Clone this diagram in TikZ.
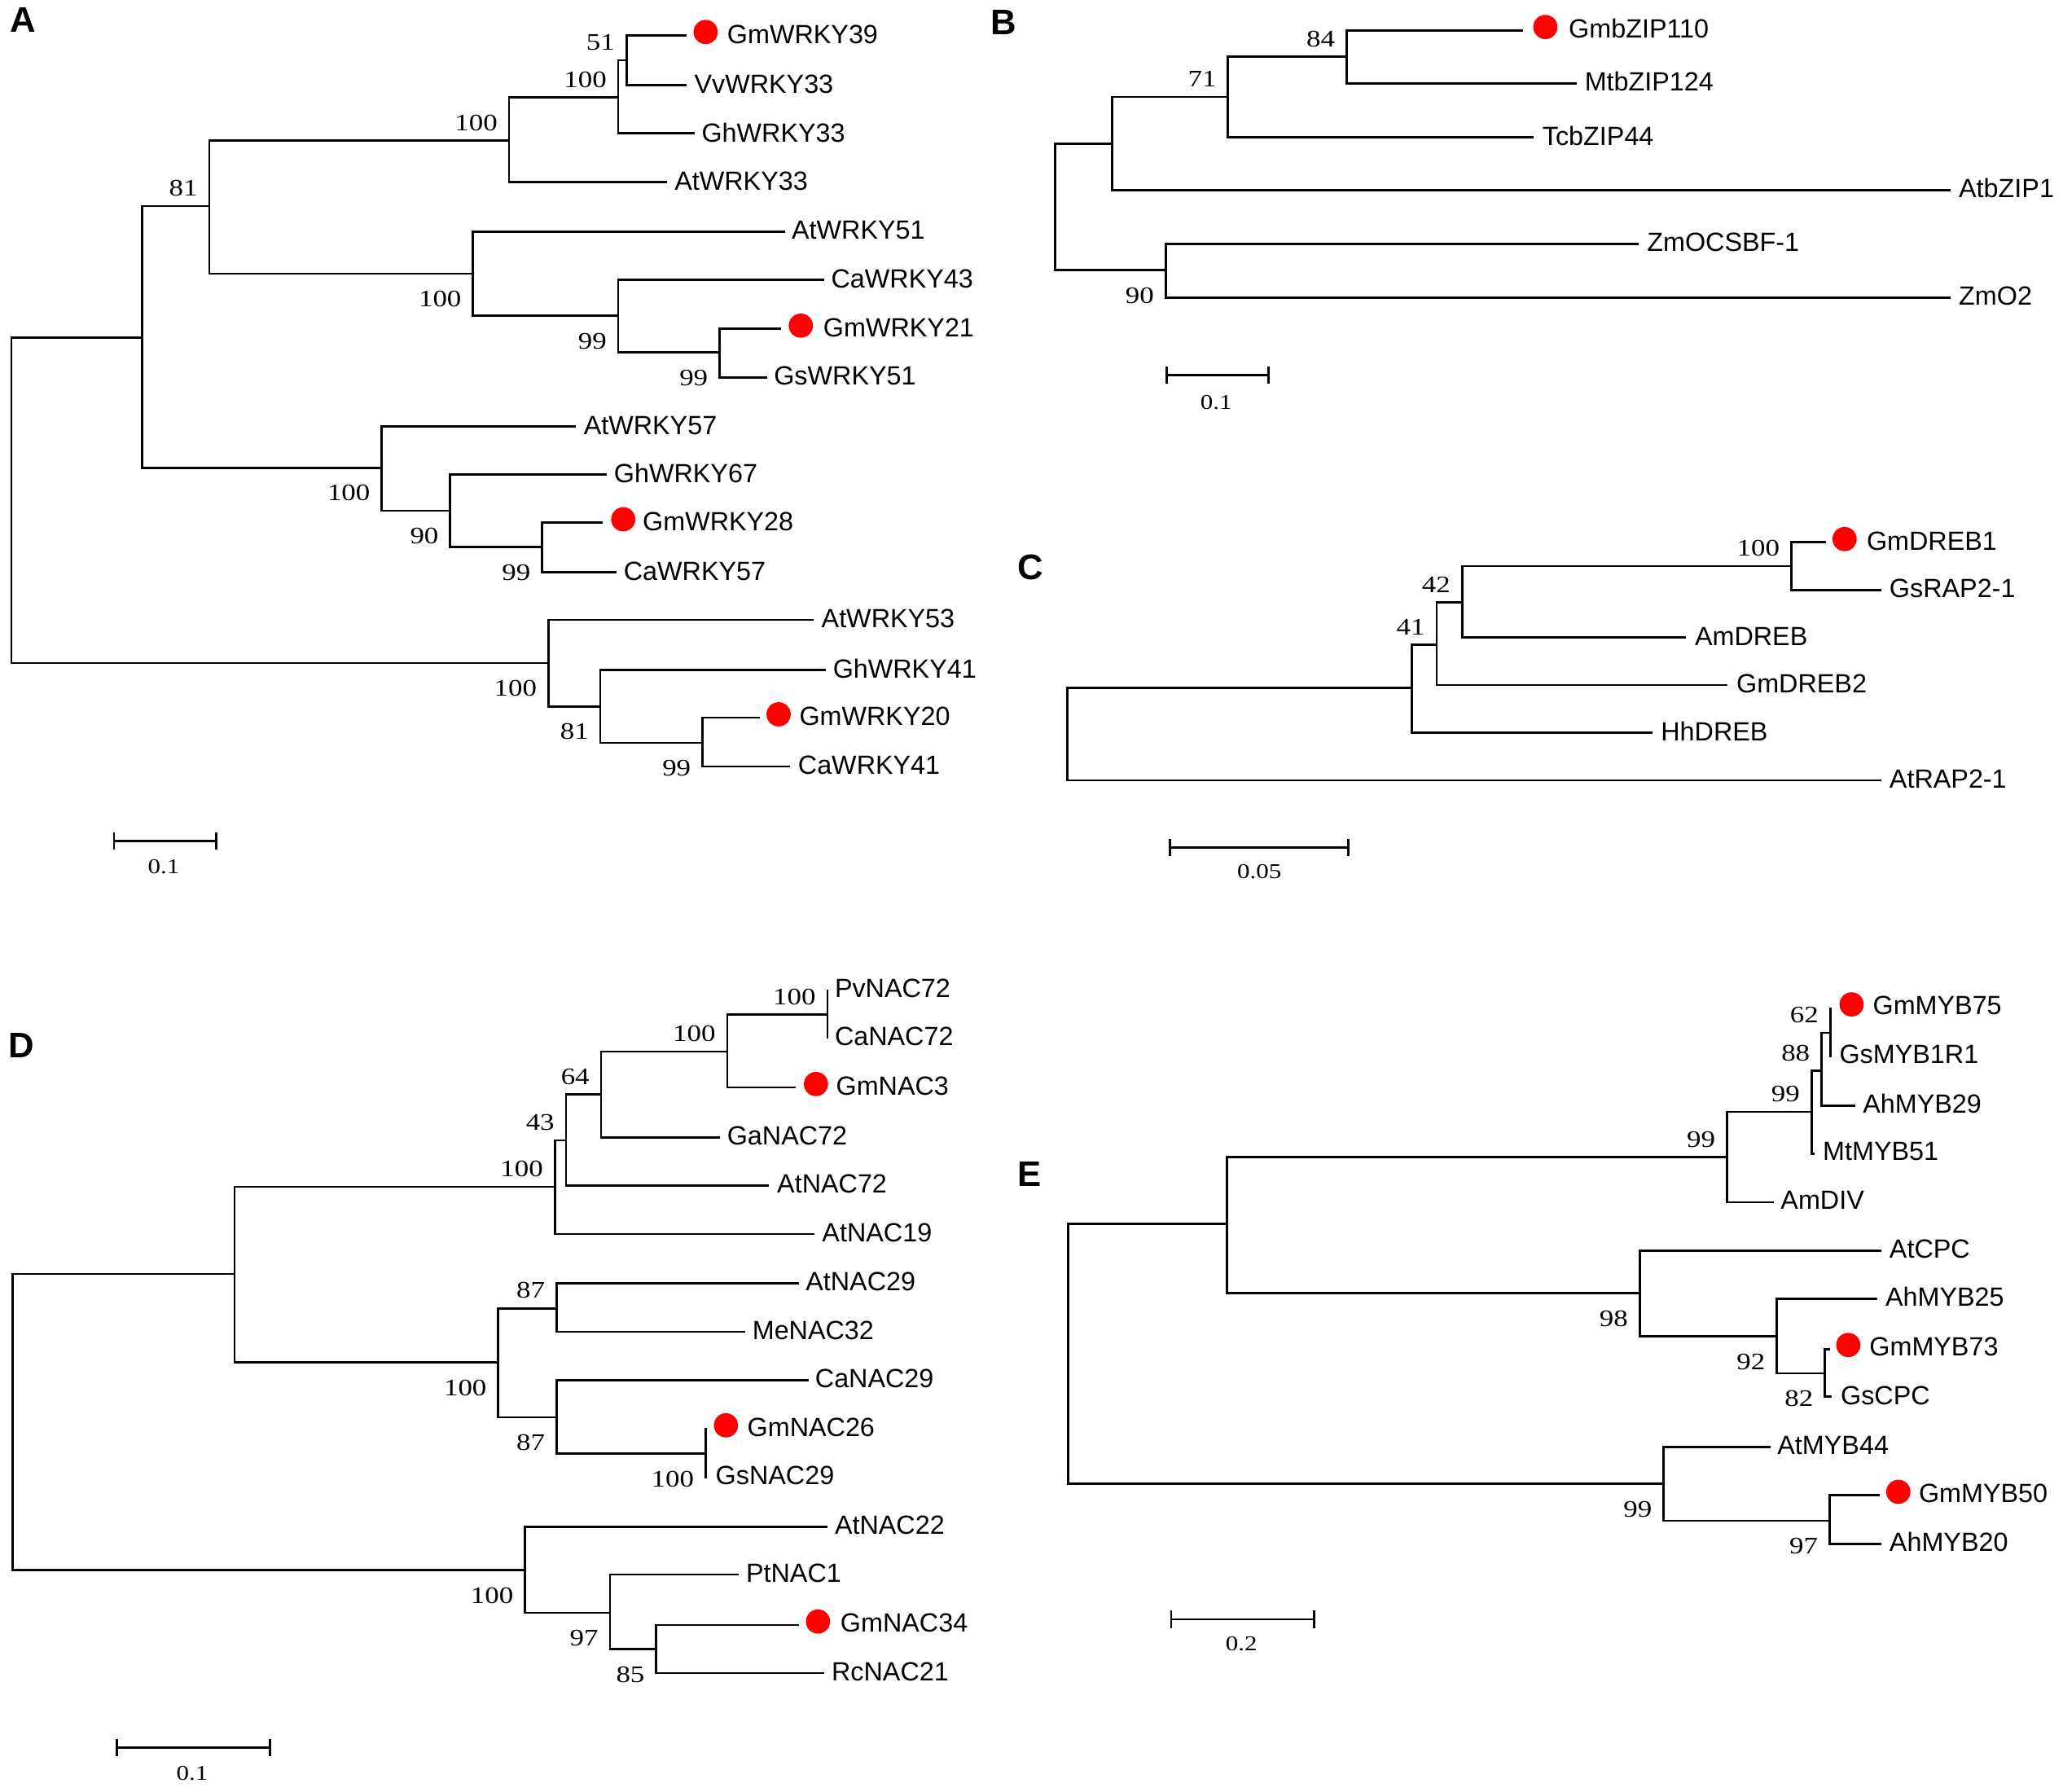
\documentclass[tikz,border=0pt]{standalone}
\usepackage{fontspec}
\setmainfont{Liberation Sans}
\newfontfamily\bsfont[FakeStretch=1.2]{Liberation Serif}
\usetikzlibrary{arrows.meta}
\newcommand\labup[2]{\node[bootlab] (lab-#1) at ([shift={(-8.5,-13.5)}]#1) {#2};}
\newcommand\labdn[2]{\node[bootlab] (lab-#1) at ([shift={(-8.5,19.3)}]#1) {#2};}
\begin{document}
\begin{tikzpicture}[x=0.5pt,y=-0.5pt,
  branch/.style={line width=0.85pt},
  leaflab/.style={anchor=west, inner sep=0pt, font=\fontsize{10}{12}\selectfont},
  bootlab/.style={anchor=east, inner sep=0pt, font=\bsfont\fontsize{9}{10}\selectfont},
  reddot/.style={circle, fill=red, draw=none, inner sep=0pt, minimum size=9.2pt},
  panellab/.style={inner sep=0pt, font=\bfseries\fontsize{13.5}{14}\selectfont},
  scalebar/.style={line width=0.85pt, arrows={Bar[width=6.6pt]-Bar[width=6.6pt]}},
  scalelab/.style={inner sep=0pt, font=\bsfont\fontsize{8}{9}\selectfont}]
\useasboundingbox (0,0) rectangle (1567,1360.4);

% ================= Panel A =================
\node[panellab] (pA) at (17.5,15) {A};
\coordinate (aL1) at (521.6,27);
\coordinate (aL2) at (521.6,64.6);
\coordinate (aL3) at (527.4,101.3);
\coordinate (aL4) at (506.6,138.2);
\coordinate (aL5) at (596.2,175.8);
\coordinate (aL6) at (626,212.3);
\coordinate (aL7) at (593.3,249.8);
\coordinate (aL8) at (582.7,286.5);
\coordinate (aL9) at (437.3,323.9);
\coordinate (aL10) at (461,360.2);
\coordinate (aL11) at (457.5,396.8);
\coordinate (aL12) at (468,434.6);
\coordinate (aL13) at (618,470.8);
\coordinate (aL14) at (627.5,508.8);
\coordinate (aL15) at (577,545);
\coordinate (aL16) at (600,582.2);
\coordinate (a1) at (475.8,45.8);
\coordinate (a2) at (469.6,74);
\coordinate (a3) at (386.7,106.6);
\coordinate (a4) at (546.6,267.5);
\coordinate (a5) at (469.6,239.9);
\coordinate (a6) at (359.3,207.8);
\coordinate (a7) at (159,156.5);
\coordinate (a8) at (411.8,415.6);
\coordinate (a9) at (342,387.9);
\coordinate (a10) at (290,355.2);
\coordinate (a11) at (108,256.5);
\coordinate (a12) at (533.6,564.2);
\coordinate (a13) at (456,536.5);
\coordinate (a14) at (416.6,503.5);
\coordinate (a0) at (8.7,380);
\draw[branch] (aL1) -| (a1) |- (aL2);
\draw[branch] (a1) -| (a2) |- (aL3);
\draw[branch] (a2) -| (a3) |- (aL4);
\draw[branch] (aL7) -| (a4) |- (aL8);
\draw[branch] (aL6) -| (a5) |- (a4);
\draw[branch] (aL5) -| (a6) |- (a5);
\draw[branch] (a3) -| (a7) |- (a6);
\draw[branch] (aL11) -| (a8) |- (aL12);
\draw[branch] (aL10) -| (a9) |- (a8);
\draw[branch] (aL9) -| (a10) |- (a9);
\draw[branch] (a7) -| (a11) |- (a10);
\draw[branch] (aL15) -| (a12) |- (aL16);
\draw[branch] (aL14) -| (a13) |- (a12);
\draw[branch] (aL13) -| (a14) |- (a13);
\draw[branch] (a11) -| (a0) |- (a14);
\node[reddot] (aD1) at (536,24.3) {};
\node[leaflab] (aT1) at (552,26.2) {GmWRKY39};
\node[leaflab] (aT2) at (527,63.8) {VvWRKY33};
\node[leaflab] (aT3) at (532.6,100.5) {GhWRKY33};
\node[leaflab] (aT4) at (512,137.4) {AtWRKY33};
\node[leaflab] (aT5) at (601,175) {AtWRKY51};
\node[leaflab] (aT6) at (631,211.5) {CaWRKY43};
\node[reddot] (aD7) at (608.3,247.3) {};
\node[leaflab] (aT7) at (625,249) {GmWRKY21};
\node[leaflab] (aT8) at (587.5,285.7) {GsWRKY51};
\node[leaflab] (aT9) at (443,323.1) {AtWRKY57};
\node[leaflab] (aT10) at (466,359.4) {GhWRKY67};
\node[reddot] (aD11) at (473.4,394.4) {};
\node[leaflab] (aT11) at (487.8,396) {GmWRKY28};
\node[leaflab] (aT12) at (473.4,433.8) {CaWRKY57};
\node[leaflab] (aT13) at (623.6,470) {AtWRKY53};
\node[leaflab] (aT14) at (632.3,508) {GhWRKY41};
\node[reddot] (aD15) at (591.4,542.5) {};
\node[leaflab] (aT15) at (606.8,544.2) {GmWRKY20};
\node[leaflab] (aT16) at (605.8,581.4) {CaWRKY41};
\labup{a1}{51}
\labup{a2}{100}
\labup{a3}{100}
\labup{a7}{81}
\labdn{a6}{100}
\labdn{a5}{99}
\labdn{a4}{99}
\labdn{a10}{100}
\labdn{a9}{90}
\labdn{a8}{99}
\labdn{a14}{100}
\labdn{a13}{81}
\labdn{a12}{99}
\coordinate (asb1) at (85.7,638.8);
\coordinate (asb2) at (165.2,638.8);
\draw[scalebar] (asb1) -- (asb2);
\node[scalelab] (asl) at (124.3,658) {0.1};

% ================= Panel B =================
\node[panellab] (pB) at (762,17) {B};
\coordinate (bL1) at (1157,23);
\coordinate (bL2) at (1197.5,63.4);
\coordinate (bL3) at (1164.8,104.2);
\coordinate (bL4) at (1481.6,144.3);
\coordinate (bL5) at (1244.8,185.1);
\coordinate (bL6) at (1481.6,226);
\coordinate (b1) at (1022.8,42.9);
\coordinate (b2) at (932.8,73.6);
\coordinate (b3) at (844.9,109.2);
\coordinate (b4) at (885.4,205);
\coordinate (b0) at (801.2,157);
\draw[branch] (bL1) -| (b1) |- (bL2);
\draw[branch] (b1) -| (b2) |- (bL3);
\draw[branch] (b2) -| (b3) |- (bL4);
\draw[branch] (bL5) -| (b4) |- (bL6);
\draw[branch] (b3) -| (b0) |- (b4);
\node[reddot] (bD1) at (1173.8,20.5) {};
\node[leaflab] (bT1) at (1191.2,21.5) {GmbZIP110};
\node[leaflab] (bT2) at (1203.3,62) {MtbZIP124};
\node[leaflab] (bT3) at (1171.2,103) {TcbZIP44};
\node[leaflab] (bT4) at (1487.5,143) {AtbZIP1};
\node[leaflab] (bT5) at (1250.7,184) {ZmOCSBF-1};
\node[leaflab] (bT6) at (1487.5,225) {ZmO2};
\labup{b1}{84}
\labup{b2}{71}
\labdn{b4}{90}
\coordinate (bsb1) at (885.4,285);
\coordinate (bsb2) at (964.4,285);
\draw[scalebar] (bsb1) -- (bsb2);
\node[scalelab] (bsl) at (923.8,305.4) {0.1};

% ================= Panel C =================
\node[panellab] (pC) at (783,431) {C};
\coordinate (cL1) at (1386.9,411.9);
\coordinate (cL2) at (1429,448.3);
\coordinate (cL3) at (1280.6,484.3);
\coordinate (cL4) at (1312.2,520.2);
\coordinate (cL5) at (1255.4,556.4);
\coordinate (cL6) at (1429,592.6);
\coordinate (c1) at (1360.6,430);
\coordinate (c2) at (1110.6,457.4);
\coordinate (c3) at (1091.2,489.6);
\coordinate (c4) at (1072.2,522.6);
\coordinate (c0) at (810.7,557);
\draw[branch] (cL1) -| (c1) |- (cL2);
\draw[branch] (c1) -| (c2) |- (cL3);
\draw[branch] (c2) -| (c3) |- (cL4);
\draw[branch] (c3) -| (c4) |- (cL5);
\draw[branch] (c4) -| (c0) |- (cL6);
\node[reddot] (cD1) at (1401.1,409.4) {};
\node[leaflab] (cT1) at (1417.5,411) {GmDREB1};
\node[leaflab] (cT2) at (1434.8,447) {GsRAP2-1};
\node[leaflab] (cT3) at (1287,483.3) {AmDREB};
\node[leaflab] (cT4) at (1318.6,519.2) {GmDREB2};
\node[leaflab] (cT5) at (1261.2,555.2) {HhDREB};
\node[leaflab] (cT6) at (1434.8,591.8) {AtRAP2-1};
\labup{c1}{100}
\labup{c2}{42}
\labup{c3}{41}
\coordinate (csb1) at (888,643.6);
\coordinate (csb2) at (1024.9,643.6);
\draw[scalebar] (csb1) -- (csb2);
\node[scalelab] (csl) at (956.5,662.1) {0.05};

% ================= Panel D =================
\node[panellab] (pD) at (16,794) {D};
\coordinate (dL1) at (628.5,751.6);
\coordinate (dL2) at (628.5,788.5);
\coordinate (dL3) at (604.4,825.8);
\coordinate (dL4) at (546.6,863.8);
\coordinate (dL5) at (584.2,900.3);
\coordinate (dL6) at (618.9,937.2);
\coordinate (dL7) at (606.8,974.7);
\coordinate (dL8) at (565.9,1011.4);
\coordinate (dL9) at (614,1048.4);
\coordinate (dL10) at (536,1084.6);
\coordinate (dL11) at (536,1122.8);
\coordinate (dL12) at (628.5,1159.4);
\coordinate (dL13) at (561,1195.8);
\coordinate (dL14) at (606.8,1234.2);
\coordinate (dL15) at (626,1270.6);
\coordinate (d1) at (628.5,770.4);
\coordinate (d2) at (552.4,798.7);
\coordinate (d3) at (456.6,831.2);
\coordinate (d4) at (430,866);
\coordinate (d5) at (421.4,901.4);
\coordinate (d6) at (422.8,993.6);
\coordinate (d7) at (536,1104.1);
\coordinate (d8) at (422.8,1076.4);
\coordinate (d9) at (378.5,1034.8);
\coordinate (d10) at (178.2,967.6);
\coordinate (d11) at (498.5,1252.6);
\coordinate (d12) at (463.3,1224.8);
\coordinate (d13) at (398.8,1192.3);
\coordinate (d0) at (9.6,1080);
\draw[branch] (dL1) -| (d1) |- (dL2);
\draw[branch] (d1) -| (d2) |- (dL3);
\draw[branch] (d2) -| (d3) |- (dL4);
\draw[branch] (d3) -| (d4) |- (dL5);
\draw[branch] (d4) -| (d5) |- (dL6);
\draw[branch] (dL7) -| (d6) |- (dL8);
\draw[branch] (dL10) -| (d7) |- (dL11);
\draw[branch] (dL9) -| (d8) |- (d7);
\draw[branch] (d6) -| (d9) |- (d8);
\draw[branch] (d5) -| (d10) |- (d9);
\draw[branch] (dL14) -| (d11) |- (dL15);
\draw[branch] (dL13) -| (d12) |- (d11);
\draw[branch] (dL12) -| (d13) |- (d12);
\draw[branch] (d10) -| (d0) |- (d13);
\node[leaflab] (dT1) at (633.7,750.5) {PvNAC72};
\node[leaflab] (dT2) at (633.7,787.4) {CaNAC72};
\node[reddot] (dD3) at (619.8,823.3) {};
\node[leaflab] (dT3) at (634.7,824.8) {GmNAC3};
\node[leaflab] (dT4) at (551.9,862.7) {GaNAC72};
\node[leaflab] (dT5) at (589.9,899.3) {AtNAC72};
\node[leaflab] (dT6) at (624.1,936) {AtNAC19};
\node[leaflab] (dT7) at (611.6,973.5) {AtNAC29};
\node[leaflab] (dT8) at (571.1,1010.3) {MeNAC32};
\node[leaflab] (dT9) at (618.8,1047) {CaNAC29};
\node[reddot] (dD10) at (551.4,1082.5) {};
\node[leaflab] (dT10) at (567.3,1084) {GmNAC26};
\node[leaflab] (dT11) at (543.2,1120.8) {GsNAC29};
\node[leaflab] (dT12) at (633.7,1158.3) {AtNAC22};
\node[leaflab] (dT13) at (566.3,1194.7) {PtNAC1};
\node[reddot] (dD14) at (621.3,1231.5) {};
\node[leaflab] (dT14) at (638,1232.5) {GmNAC34};
\node[leaflab] (dT15) at (631.3,1269.5) {RcNAC21};
\labup{d1}{100}
\labup{d2}{100}
\labup{d3}{64}
\labup{d4}{43}
\labup{d5}{100}
\labup{d6}{87}
\labdn{d9}{100}
\labdn{d8}{87}
\labdn{d7}{100}
\labdn{d13}{100}
\labdn{d12}{97}
\labdn{d11}{85}
\coordinate (dsb1) at (87.7,1327.3);
\coordinate (dsb2) at (206.1,1327.3);
\draw[scalebar] (dsb1) -- (dsb2);
\node[scalelab] (dsl) at (146,1346.8) {0.1};

% ================= Panel E =================
\node[panellab] (pE) at (782,892) {E};
\coordinate (eL1) at (1390.2,765.3);
\coordinate (eL2) at (1390.2,802.9);
\coordinate (eL3) at (1409,839.8);
\coordinate (eL4) at (1378.6,876.2);
\coordinate (eL5) at (1347.2,913.1);
\coordinate (eL6) at (1429.2,949.7);
\coordinate (eL7) at (1425.7,986.2);
\coordinate (eL8) at (1390.2,1024.6);
\coordinate (eL9) at (1391.2,1060.8);
\coordinate (eL10) at (1344.6,1099.1);
\coordinate (eL11) at (1427.7,1135.5);
\coordinate (eL12) at (1429.2,1172.4);
\coordinate (e1) at (1390.2,784.4);
\coordinate (e2) at (1383.6,813.1);
\coordinate (e3) at (1376,844.4);
\coordinate (e4) at (1311.7,878.8);
\coordinate (e5) at (1386.2,1043);
\coordinate (e6) at (1349.7,1015);
\coordinate (e7) at (1245.4,982.1);
\coordinate (e8) at (931.8,929.6);
\coordinate (e9) at (1389.7,1155);
\coordinate (e10) at (1263.6,1126.9);
\coordinate (e0) at (811.3,1028);
\draw[branch] (eL1) -| (e1) |- (eL2);
\draw[branch] (e1) -| (e2) |- (eL3);
\draw[branch] (e2) -| (e3) |- (eL4);
\draw[branch] (e3) -| (e4) |- (eL5);
\draw[branch] (eL8) -| (e5) |- (eL9);
\draw[branch] (eL7) -| (e6) |- (e5);
\draw[branch] (eL6) -| (e7) |- (e6);
\draw[branch] (e4) -| (e8) |- (e7);
\draw[branch] (eL11) -| (e9) |- (eL12);
\draw[branch] (eL10) -| (e10) |- (e9);
\draw[branch] (e8) -| (e0) |- (e10);
\node[reddot] (eD1) at (1406.4,762.8) {};
\node[leaflab] (eT1) at (1422.2,763.5) {GmMYB75};
\node[leaflab] (eT2) at (1396.8,800.8) {GsMYB1R1};
\node[leaflab] (eT3) at (1414.6,838.5) {AhMYB29};
\node[leaflab] (eT4) at (1384.2,874.7) {MtMYB51};
\node[leaflab] (eT5) at (1352.2,911.5) {AmDIV};
\node[leaflab] (eT6) at (1434.8,948.3) {AtCPC};
\node[leaflab] (eT7) at (1431.8,984.8) {AhMYB25};
\node[reddot] (eD8) at (1403.9,1021.5) {};
\node[leaflab] (eT8) at (1419.6,1022.8) {GmMYB73};
\node[leaflab] (eT9) at (1397.8,1060.1) {GsCPC};
\node[leaflab] (eT10) at (1349.7,1098) {AtMYB44};
\node[reddot] (eD11) at (1441.9,1133) {};
\node[leaflab] (eT11) at (1457.1,1134.2) {GmMYB50};
\node[leaflab] (eT12) at (1434.8,1171.2) {AhMYB20};
\labup{e1}{62}
\labup{e2}{88}
\labup{e3}{99}
\labup{e4}{99}
\labdn{e7}{98}
\labdn{e6}{92}
\labdn{e5}{82}
\labdn{e10}{99}
\labdn{e9}{97}
\coordinate (esb1) at (888.8,1229.8);
\coordinate (esb2) at (999.2,1229.8);
\draw[scalebar] (esb1) -- (esb2);
\node[scalelab] (esl) at (943,1248.2) {0.2};
\end{tikzpicture}
\end{document}
